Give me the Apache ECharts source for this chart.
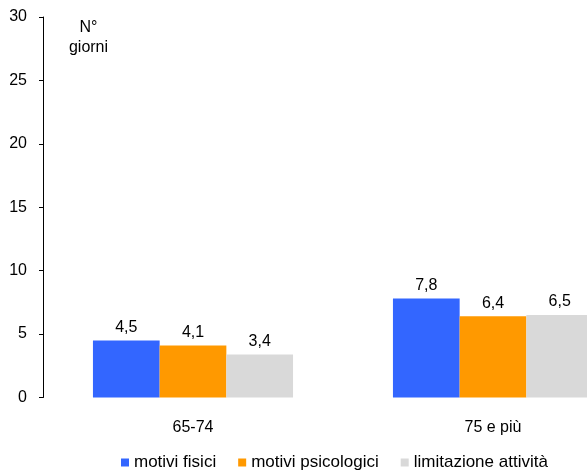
<!DOCTYPE html>
<html><head><meta charset="utf-8">
<script src="https://cdn.jsdelivr.net/npm/echarts@6/dist/echarts.min.js"></script>
<style>html,body{margin:0;padding:0;background:#fff;overflow:hidden}#c{width:643px;height:472px}</style>
</head><body><div id="c"></div>
<script>
const categories = ["65-74", "75 e più"];
const seriesNames = ["motivi fisici", "motivi psicologici", "limitazione attività"];
const fisici = [4.5, 7.8];
const psicologici = [4.1, 6.4];
const limitazione = [3.4, 6.5];
const colors = ["#3366ff", "#ff9900", "#d9d9d9"];
const font = "Liberation Sans, Arial, sans-serif";
const chart = echarts.init(document.getElementById('c'));
const lbl = {show: true, position: 'top', distance: 5, color: '#000', fontSize: 16, fontFamily: font,
  formatter: p => String(p.value).replace('.', ',')};
const values = [fisici, psicologici, limitazione];
chart.setOption({
  animation: false,
  grid: {left: 43, right: 0, top: 17, bottom: 74.5, containLabel: false},
  legend: {top: 454, left: 121, padding: 0, itemWidth: 8, itemHeight: 8, itemGap: 22, icon: 'rect',
    textStyle: {fontSize: 17, fontFamily: font, color: '#000'},
    data: seriesNames},
  graphic: [{type: 'text', x: 88.5, y: 18, style: {text: 'N°\ngiorni', fontSize: 16,
    fontFamily: font, fill: '#000', lineHeight: 20, align: 'center', verticalAlign: 'top'}}],
  xAxis: {type: 'category', data: categories, axisLine: {show: false}, axisTick: {show: false},
    axisLabel: {fontSize: 16, fontFamily: font, color: '#000', margin: 22}},
  yAxis: {type: 'value', min: 0, max: 30, interval: 5, splitLine: {show: false},
    axisLine: {show: true, lineStyle: {color: '#000', width: 1}},
    axisTick: {show: true, length: 4, lineStyle: {color: '#000'}},
    axisLabel: {fontSize: 16, fontFamily: font, color: '#000', margin: 16}},
  series: seriesNames.map((n, i) => ({name: n, type: 'bar', data: values[i], barGap: '0%', barCategoryGap: '33.3%',
    itemStyle: {color: colors[i]}, label: lbl}))
});
</script></body></html>
